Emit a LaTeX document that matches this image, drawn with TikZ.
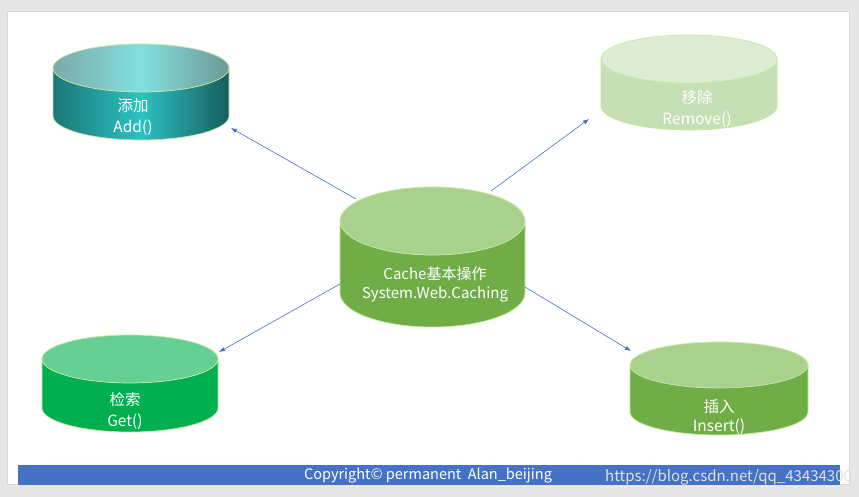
\documentclass[tikz,border=0pt]{standalone}
\usepackage{fontspec}
\setmainfont{Noto Sans CJK SC}
\usetikzlibrary{arrows.meta}
\usetikzlibrary{positioning}

\definecolor{slidegray}{HTML}{E6E6E6}
\definecolor{linkblue}{HTML}{4472C4}
\definecolor{rimgreen}{HTML}{C8E89E}
\definecolor{grasstop}{HTML}{A9D18E}
\definecolor{grassside}{HTML}{70AD47}
\definecolor{palegreentop}{HTML}{DDEDD4}
\definecolor{palegreenside}{HTML}{C5E0B4}
\definecolor{mintop}{HTML}{66CF94}
\definecolor{minside}{HTML}{00B050}
\definecolor{tealdark}{HTML}{1B6E6E}
\definecolor{tealmid}{HTML}{2CC2C2}
\definecolor{tealtopedge}{HTML}{7BAAAA}
\definecolor{tealtopmid}{HTML}{82E0DE}

% #1 cx, #2 top y, #3 bottom y, #4 rx, #5 ry
\newcommand{\cylbody}[5]{({#1-#4},#2) -- ({#1-#4},#3) arc[start angle=180,end angle=0,x radius=#4,y radius=#5] -- ({#1+#4},#2) arc[start angle=0,end angle=180,x radius=#4,y radius=#5] -- cycle}
\newcommand{\cylrim}[5]{\draw[rim] ({#1-#4},#2) -- ({#1-#4},#3) arc[start angle=180,end angle=0,x radius=#4,y radius=#5] -- ({#1+#4},#2);
  \draw[rim] (#1,#2) ellipse[x radius=#4,y radius=#5];}

\begin{document}
\begin{tikzpicture}[x=1pt,y=-1pt,
  rim/.style={draw=rimgreen,line width=0.7pt},
  cyltext/.style={text=white,align=center,font=\fontsize{15.5}{21}\selectfont,inner sep=0pt},
  link/.style={draw=linkblue,line width=0.6pt,-{Latex[length=6pt,width=4.5pt]}}]
\useasboundingbox (0,0) rectangle (859,497);
\fill[slidegray] (0,0) rectangle (859,497);
\filldraw[fill=white,draw=black!15,line width=0.4pt] (7,11) rectangle (849,484);

% Add (gradient)
\shade[left color=tealdark!90!tealmid,right color=tealdark!85!black,middle color=tealmid] \cylbody{141}{68}{116}{88}{24};
\shade[left color=tealtopedge,right color=tealtopedge!90!black,middle color=tealtopmid] (141,68) ellipse[x radius=88,y radius=24];
\cylrim{141}{68}{116}{88}{24}
\node[cyltext] (add) at (133,117) {添加\\Add()};

% Remove
\fill[palegreenside] \cylbody{689}{59}{106}{88}{24};
\fill[palegreentop] (689,59) ellipse[x radius=88,y radius=24];
\cylrim{689}{59}{106}{88}{24}
\node[cyltext] (remove) at (697,109) {移除\\Remove()};

% Cache
\fill[grassside] \cylbody{432.5}{221}{293}{92.5}{34};
\fill[grasstop] (432.5,221) ellipse[x radius=92.5,y radius=34];
\cylrim{432.5}{221}{293}{92.5}{34}
\node[cyltext,font=\fontsize{15}{19}\selectfont] (cache) at (435,285) {Cache基本操作\\System.Web.Caching};

% Get
\fill[minside] \cylbody{130}{359}{408}{88}{24};
\fill[mintop] (130,359) ellipse[x radius=88,y radius=24];
\cylrim{130}{359}{408}{88}{24}
\node[cyltext] (get) at (125,411) {检索\\Get()};

% Insert
\fill[grassside] \cylbody{719}{365}{412}{89}{23};
\fill[grasstop] (719,365) ellipse[x radius=89,y radius=23];
\cylrim{719}{365}{412}{89}{23}
\node[cyltext,font=\fontsize{15.5}{19}\selectfont] (insert) at (719,417) {插入\\Insert()};

% arrow ends
\coordinate (addend) at (231,128);
\coordinate (addstart) at (356,199);
\coordinate (removeend) at (589,119);
\coordinate (removestart) at (491,191);
\coordinate (getend) at (219,352);
\coordinate (getstart) at (340,284);
\coordinate (insertend) at (631,351);
\coordinate (insertstart) at (525,287);
\draw[link] (addstart) -- (addend);
\draw[link] (removestart) -- (removeend);
\draw[link] (getstart) -- (getend);
\draw[link] (insertstart) -- (insertend);

% footer
\fill[linkblue] (18,465) rectangle (840,485);
\node[text=white,font=\fontsize{14.5}{16}\selectfont,inner sep=0pt] (copyright) at (428,476) {Copyright© permanent\ \ Alan\_beijing};
\node[text=black!12,font=\fontsize{15}{16}\selectfont,inner sep=0pt,anchor=west] (watermark) at (605,477) {https://blog.csdn.net/qq\_43434300};
\end{tikzpicture}
\end{document}
